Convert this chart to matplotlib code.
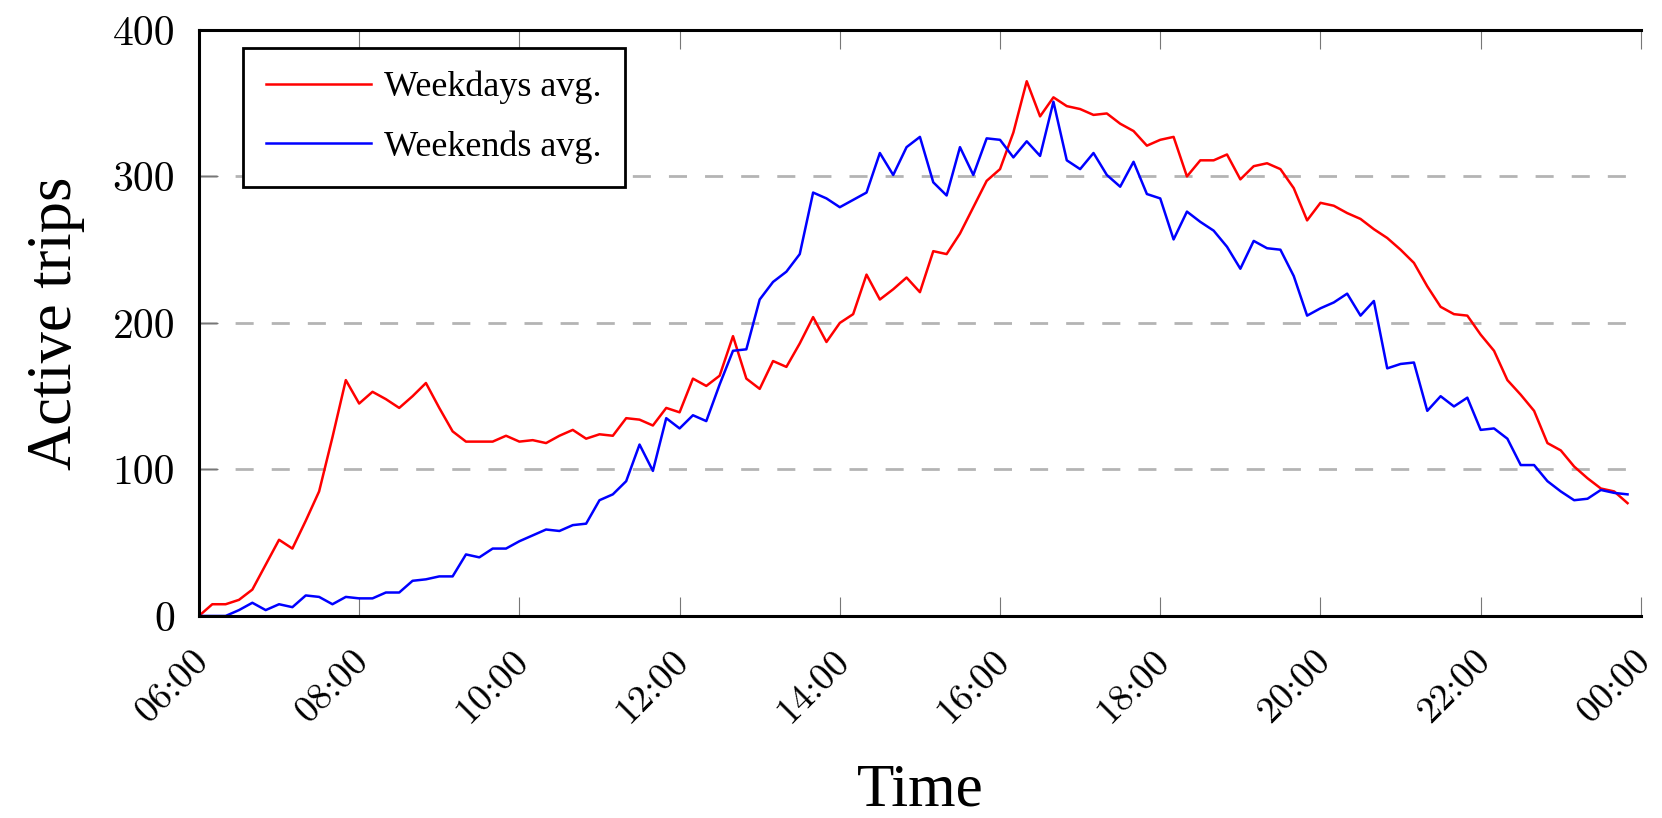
import numpy as np
import pandas as pd
import matplotlib
matplotlib.use("Agg")
import matplotlib.pyplot as plt
import matplotlib.dates as mdates
import matplotlib.transforms as mtransforms

# 10-minute samples from 06:00 to 23:50
times = pd.date_range("2000-01-01 06:00", "2000-01-01 23:50", freq="10min")

weekdays = [0, 8, 8, 11, 18, 35, 52, 46, 65, 85,
            122, 161, 145, 153, 148, 142, 150, 159, 142, 126,
            119, 119, 119, 123, 119, 120, 118, 123, 127, 121,
            124, 123, 135, 134, 130, 142, 139, 162, 157, 164,
            191, 162, 155, 174, 170, 186, 204, 187, 200, 206,
            233, 216, 223, 231, 221, 249, 247, 261, 279, 297,
            305, 330, 365, 341, 354, 348, 346, 342, 343, 336,
            331, 321, 325, 327, 300, 311, 311, 315, 298, 307,
            309, 305, 292, 270, 282, 280, 275, 271, 264, 258,
            250, 241, 225, 211, 206, 205, 192, 181, 161, 151,
            140, 118, 113, 102, 94, 87, 85, 77]

weekends = [0, 0, 0, 4, 9, 4, 8, 6, 14, 13,
            8, 13, 12, 12, 16, 16, 24, 25, 27, 27,
            42, 40, 46, 46, 51, 55, 59, 58, 62, 63,
            79, 83, 92, 117, 99, 135, 128, 137, 133, 158,
            181, 182, 216, 228, 235, 247, 289, 285, 279, 284,
            289, 316, 301, 320, 327, 296, 287, 320, 301, 326,
            325, 313, 324, 314, 351, 311, 305, 316, 301, 293,
            310, 288, 285, 257, 276, 269, 263, 252, 237, 256,
            251, 250, 232, 205, 210, 214, 220, 205, 215, 169,
            172, 173, 140, 150, 143, 149, 127, 128, 121, 103,
            103, 92, 85, 79, 80, 86, 84, 83]

y_ticks = [0, 100, 200, 300, 400]
x_start = pd.Timestamp("2000-01-01 06:00")
x_end = pd.Timestamp("2000-01-02 00:00")

fig = plt.figure(figsize=(16.62, 8.18), dpi=100)
ax = fig.add_axes([0.1197, 0.247, 0.8676, 0.7164])

ax.plot(times, weekdays, color="red", lw=1.8, label="Weekdays avg.")
ax.plot(times, weekends, color="blue", lw=1.8, label="Weekends avg.")

ax.set_xlim(x_start, x_end)
ax.set_ylim(0, 400)
ax.set_yticks(y_ticks)
ax.xaxis.set_major_locator(mdates.HourLocator(interval=2))
ax.xaxis.set_major_formatter(mdates.DateFormatter("%H:%M"))

for v in y_ticks[1:-1]:
    ax.axhline(v, color="#b4b4b4", lw=2.0, dashes=(6.5, 6.5), zorder=0)

for s in ["left", "bottom", "top"]:
    ax.spines[s].set_linewidth(2.2)
    ax.spines[s].set_color("black")
ax.spines["right"].set_visible(False)

ax.tick_params(axis="x", direction="in", length=14, width=0.8, color="#777777",
               top=True, pad=20)
ax.tick_params(axis="y", direction="in", length=14, width=0.8, color="#777777",
               pad=17)
shift = mtransforms.ScaledTranslation(0.16, 0, fig.dpi_scale_trans)
for lab in ax.get_yticklabels():
    lab.set_family("cmr10")
    lab.set_fontsize(30)
for lab in ax.get_xticklabels():
    lab.set_family("cmr10")
    lab.set_fontsize(27.5)
    lab.set_rotation(45)
    lab.set_ha("right")
    lab.set_va("top")
    lab.set_transform(lab.get_transform() + shift)

ax.set_ylabel("Active trips", family="Liberation Serif", fontsize=45, labelpad=20)
ax.set_xlabel("Time", family="Liberation Serif", fontsize=44, va="baseline")
ax.xaxis.set_label_coords(0.5, -0.324)

leg = ax.legend(loc="upper left", bbox_to_anchor=(0.0305, 0.97), borderaxespad=0,
                fancybox=False, framealpha=1, edgecolor="black",
                prop={"family": "Liberation Serif", "size": 26},
                handlelength=2.9, handletextpad=0.35, labelspacing=0.72,
                borderpad=0.65)
leg.get_frame().set_linewidth(2.0)

fig.savefig("out.png", dpi=100)
